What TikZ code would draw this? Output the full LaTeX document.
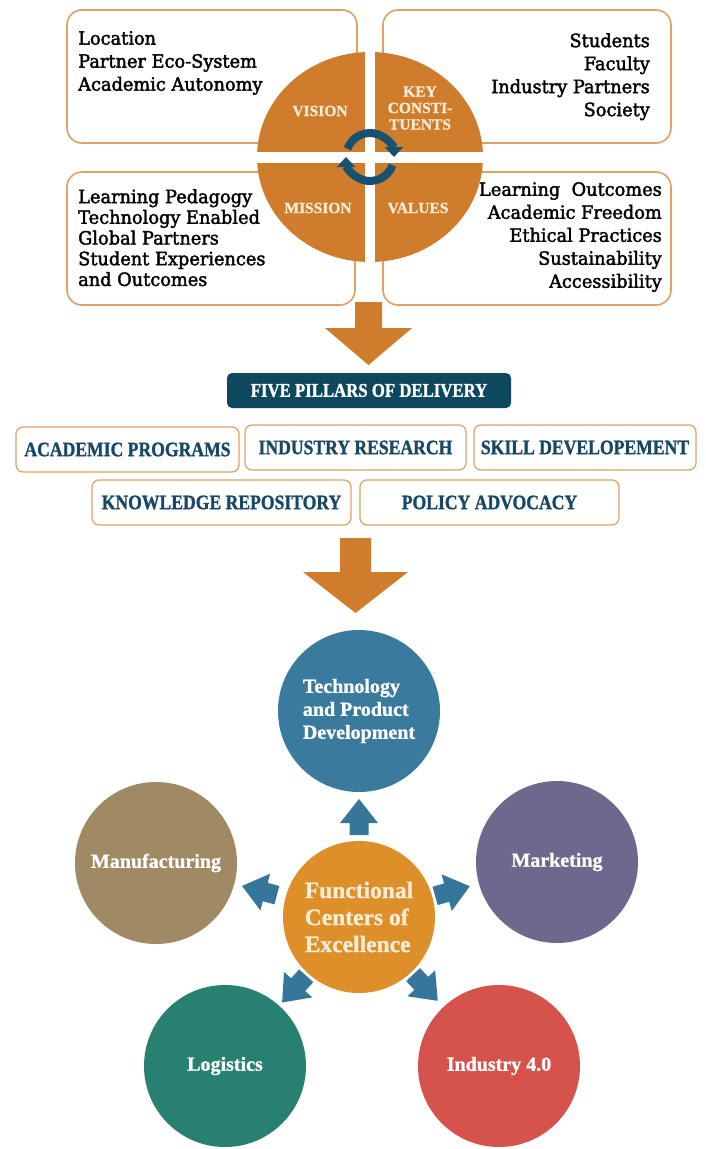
\documentclass[tikz,border=0pt]{standalone}
\usepackage{fontspec}
\usetikzlibrary{calc,arrows.meta}
\setmainfont{DejaVu Serif}
\newfontfamily\boxfont[FakeBold=2.0,FakeStretch=0.97]{DejaVu Serif}
\newfontfamily\lblfont[FakeBold=1.0]{Liberation Serif}
\newfontfamily\pilfont[FakeStretch=0.86,FakeBold=1.2]{Liberation Serif}
\definecolor{boxtan}{RGB}{222,160,100}
\definecolor{orq}{RGB}{207,124,45}
\definecolor{cream}{RGB}{251,236,212}
\definecolor{ringblue}{RGB}{22,82,112}
\definecolor{navy}{RGB}{14,72,94}
\definecolor{pilnavy}{RGB}{24,72,102}
\definecolor{techblue}{RGB}{58,122,156}
\definecolor{mfgbrown}{RGB}{160,138,100}
\definecolor{mktpurple}{RGB}{112,103,140}
\definecolor{fceorange}{RGB}{221,143,42}
\definecolor{loggreen}{RGB}{40,128,112}
\definecolor{indred}{RGB}{214,82,76}
\definecolor{smallarr}{RGB}{55,118,155}
\tikzset{blk/.pic={\fill[smallarr] (-18,-9.5) -- (-6,-9.5) -- (-6,-19) -- (18,0) -- (-6,19) -- (-6,9.5) -- (-18,9.5) -- cycle;}}
\begin{document}
\begin{tikzpicture}[x=1pt,y=-1pt,
  ibox/.style={draw=boxtan, line width=1.6pt, rounded corners=15pt, fill=white, inner sep=0pt},
  pbox/.style={draw=boxtan, line width=1.2pt, rounded corners=7pt, fill=white, inner sep=0pt,
    font=\pilfont\bfseries\fontsize{20.5}{22}\selectfont, text=pilnavy, minimum height=45pt},
  qlabel/.style={text=cream, font=\lblfont\bfseries\fontsize{15.5}{16.5}\selectfont, align=center, inner sep=0pt},
  btext/.style={inner sep=0pt, text=black},
  circ/.style={circle, minimum size=162pt, inner sep=0pt, text=white, font=\lblfont\bfseries\fontsize{20}{23}\selectfont},
  ring/.style={draw=ringblue, line width=8pt, -{Triangle[width=18pt,length=10pt]}},
]
\useasboundingbox (0,0) rectangle (706,1149);
\fill[white] (0,0) rectangle (706,1149);

% top info boxes
\node[ibox, minimum width=290pt, minimum height=133pt] (tl) at (212,76.5) {};
\node[ibox, minimum width=288pt, minimum height=133pt] (tr) at (527,76.5) {};
\node[ibox, minimum width=288pt, minimum height=133pt] (bl) at (211,238.5) {};
\node[ibox, minimum width=288pt, minimum height=133pt] (br) at (527,238.5) {};

\node[btext, anchor=north west, align=left, font=\boxfont\fontsize{18.3}{23}\selectfont] (tltext) at (78,31)
  {Location\\Partner Eco-System\\Academic Autonomy};
\node[btext, anchor=north east, align=right, font=\boxfont\fontsize{18.3}{23}\selectfont] (trtext) at (650,33)
  {Students\\Faculty\\Industry Partners\\Society};
\node[btext, anchor=north west, align=left, font=\boxfont\fontsize{18.3}{20.7}\selectfont] (bltext) at (78,189)
  {Learning Pedagogy\\Technology Enabled\\Global Partners\\Student Experiences\\and Outcomes};
\node[btext, anchor=north east, align=right, font=\boxfont\fontsize{18.3}{23}\selectfont] (brtext) at (662,182)
  {Learning~~Outcomes\\Academic Freedom\\Ethical Practices\\Sustainability\\Accessibility};

% central quartered disc
\fill[orq] (370,157) ellipse [x radius=113, y radius=105];
\fill[white] (365,50) rectangle (375,264);
\fill[white] (255,152) rectangle (485,163);
\node[qlabel] (vis) at (320,111) {VISION};
\node[qlabel] (key) at (420,108) {KEY\\CONSTI-\\TUENTS};
\node[qlabel] (mis) at (318,208) {MISSION};
\node[qlabel] (val) at (418,208) {VALUES};
\coordinate (cyc) at (370,157);
\draw[ring] ($(cyc)+(200:24)$) arc[start angle=200, end angle=360, radius=24];
\draw[ring] ($(cyc)+(20:24)$) arc[start angle=20, end angle=180, radius=24];

% big arrow 1
\fill[orq] (355,302) -- (382,302) -- (382,328) -- (412,328) -- (368.5,365) -- (325,328) -- (355,328) -- cycle;

% pillars
\node[fill=navy, rounded corners=5pt, minimum width=284pt, minimum height=35pt, inner sep=0pt,
  text=white, font=\pilfont\bfseries\fontsize{19.5}{20}\selectfont] (five) at (369,390.5) {FIVE PILLARS OF DELIVERY};
\node[pbox, minimum width=223pt] (p1) at (127.5,449.5) {ACADEMIC PROGRAMS};
\node[pbox, minimum width=221pt] (p2) at (355.5,447.5) {INDUSTRY RESEARCH};
\node[pbox, minimum width=222pt] (p3) at (585,447.5) {SKILL DEVELOPEMENT};
\node[pbox, minimum width=259pt] (p4) at (221.5,502.5) {KNOWLEDGE REPOSITORY};
\node[pbox, minimum width=259pt] (p5) at (489.5,502.5) {POLICY ADVOCACY};

% big arrow 2
\fill[orq] (340,538) -- (371,538) -- (371,572) -- (408,572) -- (355.5,613) -- (303,572) -- (340,572) -- cycle;

% functional centres
\node[circ, fill=techblue, align=left] (tech) at (359,711) {Technology\\and Product\\Development};
\node[circ, fill=mfgbrown] (mfg) at (156,863) {Manufacturing};
\node[circ, fill=mktpurple] (mkt) at (557,862) {Marketing};
\node[circ, fill=loggreen] (log) at (225,1066) {Logistics};
\node[circ, fill=indred] (ind) at (499,1066) {Industry 4.0};
\node[circle, minimum size=152pt, inner sep=0pt, fill=fceorange, text=cream, align=left,
  font=\lblfont\bfseries\fontsize{23.5}{27}\selectfont] (fce) at (359,917) {Functional\\Centers of\\Excellence};

\foreach \t/\d in {tech/100,mfg/103,mkt/97,log/97,ind/97}{
  \path let \p1=($(\t)-(fce)$), \n1={atan2(\y1,\x1)} in
    pic[rotate=\n1] at ($(fce)!\d pt!(\t)$) {blk};
}
\end{tikzpicture}
\end{document}
